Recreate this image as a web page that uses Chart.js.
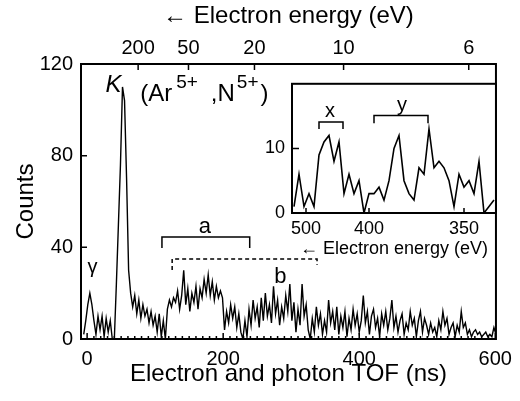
<!DOCTYPE html>
<html>
<head>
<meta charset="utf-8">
<script src="https://cdn.jsdelivr.net/npm/chart.js@4.4.1/dist/chart.umd.min.js"></script>
<style>
  html, body { margin: 0; padding: 0; background: #fff; }
  #wrap { position: relative; width: 520px; height: 401px; }
  #main { position: absolute; left: 0; top: 0; }
  #inset { position: absolute; left: 255px; top: 66px; }
</style>
</head>
<body>
<div id="wrap">
  <canvas id="main" width="520" height="401"></canvas>
  <canvas id="inset" width="245" height="196"></canvas>
</div>
<script>
/* TOF spectrum with an energy inset */
var FONT = "'Liberation Sans', Arial, Helvetica, sans-serif";

var tofStart = -5;   // ns, first bin
var tofBin = 3;      // ns per bin
var counts = [
  2, 8, 15, 20, 15, 8, 2, 10, 4, 10, 1, 9, 3, 8, 0, 0, 24, 50, 76, 110,
  104, 70, 30, 20, 14, 19, 11, 17, 9, 15, 10, 13, 7, 12, 6, 10, 3, 11, 1, 8,
  0, 13, 17, 14, 18, 16, 21, 13, 19, 30, 15, 22, 12, 20, 16, 23, 13, 22, 18, 26,
  20, 28, 19, 25, 17, 23, 18, 21, 18, 4, 12, 7, 15, 9, 14, 5, 11, 3, 0, 8,
  1, 13, 6, 17, 9, 14, 5, 18, 8, 20, 10, 15, 7, 23, 11, 17, 6, 14, 9, 19,
  12, 24, 8, 16, 3, 13, 6, 24, 10, 15, 4, 0, 9, 3, 14, 6, 11, 2, 8, 3,
  17, 7, 12, 4, 14, 2, 10, 5, 12, 1, 9, 4, 13, 6, 11, 3, 8, 19, 7, 12,
  2, 10, 13, 5, 9, 1, 11, 6, 12, 4, 9, 17, 5, 10, 3, 8, 11, 2, 7, 4,
  12, 6, 9, 1, 8, 12, 3, 9, 6, 2, 7, 3, 5, 1, 8, 4, 12, 6, 9, 2,
  5, 7, 1, 6, 3, 12, 5, 7, 2, 4, 1, 3, 4, 2, 3, 1, 2, 3, 1, 2,
  1, 5, 2
];
var tofTicks = [0, 200, 400, 600];
var countTicks = [0, 40, 80, 120];
var energyLabels = ['200', '50', '20', '10', '6'];
var energyTof = [75, 149, 246, 377, 561];   // TOF (ns) where each energy label sits

var insetCounts = [
  1, 6, 1, 3, 1, 9, 11, 12, 8, 11, 3, 6, 3, 5, 0, 3, 3, 4, 2, 5,
  10, 12, 5, 3, 2, 7, 6, 13, 7, 8, 7, 5, 1, 6, 4, 5, 3, 8, 0, 1, 2
];
var insetCountTicks = [0, 10];
var insetEnergyLabels = ['500', '400', '350'];
var insetEnergyPos = [2.4, 15, 34];         // channel where each energy label sits

function fixedTicks(list) {
  return function (scale) { scale.ticks = list.map(function (v) { return { value: v }; }); };
}

function tickFont(size) { return { family: FONT, size: size }; }

/* frame + inward tick marks */
var mainFrame = {
  id: 'mainFrame',
  afterDatasetsDraw: function (chart) {
    var ctx = chart.ctx, a = chart.chartArea, s = chart.scales;
    ctx.save();
    ctx.strokeStyle = '#000';
    ctx.lineWidth = 2;
    ctx.strokeRect(a.left, a.top, a.right - a.left, a.bottom - a.top);
    ctx.lineWidth = 1.5;
    ctx.beginPath();
    countTicks.forEach(function (v) {
      var y = s.y.getPixelForValue(v);
      ctx.moveTo(a.left, y); ctx.lineTo(a.left + 6, y);
    });
    tofTicks.forEach(function (v) {
      var x = s.x.getPixelForValue(v);
      ctx.moveTo(x, a.bottom); ctx.lineTo(x, a.bottom - 6);
    });
    for (var t = 10; t < 600; t += 10) {
      var xm = s.x.getPixelForValue(t);
      ctx.moveTo(xm, a.bottom); ctx.lineTo(xm, a.bottom - 3);
    }
    energyTof.forEach(function (v) {
      var x = s.x2.getPixelForValue(v);
      ctx.moveTo(x, a.top); ctx.lineTo(x, a.top + 6);
    });
    ctx.stroke();
    ctx.restore();
  }
};

var mainNotes = {
  id: 'mainNotes',
  afterDraw: function (chart) {
    var ctx = chart.ctx, sx = chart.scales.x, sy = chart.scales.y;
    var px = function (v) { return sx.getPixelForValue(v); };
    var py = function (v) { return sy.getPixelForValue(v); };
    ctx.save();
    ctx.fillStyle = '#000';
    ctx.strokeStyle = '#000';
    ctx.textBaseline = 'alphabetic';

    ctx.textAlign = 'left';
    ctx.font = 'italic 24px ' + FONT;
    ctx.fillText('K', px(27), py(108));

    var cx = px(78), base = py(103.7);
    var part = function (t, size, rise) {
      ctx.font = size + 'px ' + FONT;
      ctx.fillText(t, cx, base - rise);
      cx += ctx.measureText(t).width;
    };
    part('(Ar', 24, 0); cx += 4;
    part('5+', 19, 13); cx += 13;
    part(',N', 24, 0); cx += 2;
    part('5+', 19, 13); cx += 2;
    part(')', 24, 0);

    ctx.textAlign = 'center';
    ctx.font = '20px ' + FONT;
    ctx.fillText('\u03b3', px(7.8), py(28.6));
    ctx.font = '22px ' + FONT;
    ctx.fillText('a', px(173), py(46.3));
    ctx.fillText('b', px(284), py(24.5));

    ctx.lineWidth = 1.5;
    ctx.beginPath();
    ctx.moveTo(px(110), py(39.7)); ctx.lineTo(px(110), py(44.5));
    ctx.lineTo(px(239), py(44.5)); ctx.lineTo(px(239), py(39.7));
    ctx.stroke();

    ctx.setLineDash([4, 3]);
    ctx.beginPath();
    ctx.moveTo(px(125), py(30.1)); ctx.lineTo(px(125), py(34.9));
    ctx.lineTo(px(338), py(34.9)); ctx.lineTo(px(338), py(32.3));
    ctx.stroke();
    ctx.restore();
  }
};

var mainPoints = counts.map(function (c, i) { return { x: tofStart + i * tofBin, y: c }; });

new Chart(document.getElementById('main'), {
  type: 'line',
  data: {
    datasets: [{
      data: mainPoints, borderColor: '#000', borderWidth: 1.4,
      pointRadius: 0, tension: 0, fill: false, xAxisID: 'x', yAxisID: 'y'
    }]
  },
  options: {
    responsive: false, animation: false, events: [],
    layout: { padding: { right: 22 } },
    plugins: { legend: { display: false }, tooltip: { enabled: false } },
    scales: {
      x: {
        type: 'linear', position: 'bottom', min: -9, max: 601,
        afterBuildTicks: fixedTicks(tofTicks),
        afterFit: function (s) { s.height = 62; },
        grid: { display: false, drawTicks: false }, border: { display: false },
        ticks: { font: tickFont(20), color: '#000', padding: 8, maxRotation: 0, autoSkip: false },
        title: { display: true, text: 'Electron and photon TOF (ns)', color: '#000',
                 font: tickFont(24), padding: { top: 0, bottom: 12 } }
      },
      x2: {
        type: 'linear', position: 'top', min: -9, max: 601,
        afterBuildTicks: fixedTicks(energyTof),
        afterFit: function (s) { s.height = 64; },
        grid: { display: false, drawTicks: false }, border: { display: false },
        ticks: {
          font: tickFont(20), color: '#000', padding: 4, maxRotation: 0, autoSkip: false,
          callback: function (v) { return energyLabels[energyTof.indexOf(v)]; }
        },
        title: { display: true, text: '\u2190 Electron energy (eV)', color: '#000',
                 font: tickFont(24), padding: { top: 2, bottom: 0 } }
      },
      y: {
        type: 'linear', min: 0, max: 120,
        afterBuildTicks: fixedTicks(countTicks),
        afterFit: function (s) { s.width = 81; },
        grid: { display: false, drawTicks: false }, border: { display: false },
        ticks: { font: tickFont(20), color: '#000', padding: 8 },
        title: { display: true, text: 'Counts', color: '#000',
                 font: tickFont(24), padding: { top: 11.6, bottom: 0 } }
      }
    }
  },
  plugins: [mainFrame, mainNotes]
});

/* ── inset ─────────────────────────────── */
var insetFrame = {
  id: 'insetFrame',
  afterDatasetsDraw: function (chart) {
    var ctx = chart.ctx, a = chart.chartArea, s = chart.scales;
    ctx.save();
    ctx.strokeStyle = '#000';
    ctx.lineWidth = 2;
    ctx.strokeRect(a.left, a.top, a.right - a.left, a.bottom - a.top);
    ctx.lineWidth = 1.5;
    ctx.beginPath();
    insetCountTicks.forEach(function (v) {
      var y = s.y.getPixelForValue(v);
      ctx.moveTo(a.left, y); ctx.lineTo(a.left + 7, y);
    });
    insetEnergyPos.forEach(function (v) {
      var x = s.x.getPixelForValue(v);
      ctx.moveTo(x, a.bottom); ctx.lineTo(x, a.bottom - 5);
    });
    ctx.stroke();

    var px = function (v) { return s.x.getPixelForValue(v); };
    var py = function (v) { return s.y.getPixelForValue(v); };
    ctx.beginPath();
    ctx.moveTo(px(5), py(13)); ctx.lineTo(px(5), py(14.1));
    ctx.lineTo(px(9.8), py(14.1)); ctx.lineTo(px(9.8), py(13));
    ctx.moveTo(px(16), py(13.9)); ctx.lineTo(px(16), py(15.1));
    ctx.lineTo(px(26.8), py(15.1)); ctx.lineTo(px(26.8), py(13.9));
    ctx.stroke();

    ctx.fillStyle = '#000';
    ctx.textAlign = 'center';
    ctx.textBaseline = 'alphabetic';
    ctx.font = '20px ' + FONT;
    ctx.fillText('x', px(7.2), py(14.8));
    ctx.fillText('y', px(21.6), py(15.8));
    ctx.restore();
  }
};

var insetPoints = insetCounts.map(function (c, i) { return { x: i, y: c }; });

new Chart(document.getElementById('inset'), {
  type: 'line',
  data: {
    datasets: [{
      data: insetPoints, borderColor: '#000', borderWidth: 1.6,
      pointRadius: 0, tension: 0, fill: false
    }]
  },
  options: {
    responsive: false, animation: false, events: [],
    layout: { padding: { right: 4, top: 2 } },
    plugins: { legend: { display: false }, tooltip: { enabled: false } },
    scales: {
      x: {
        type: 'linear', min: -0.4, max: 40.4,
        afterBuildTicks: fixedTicks(insetEnergyPos),
        afterFit: function (s) { s.height = 49; },
        grid: { display: false, drawTicks: false }, border: { display: false },
        ticks: {
          font: tickFont(18), color: '#000', padding: 5, maxRotation: 0, autoSkip: false,
          callback: function (v) { return insetEnergyLabels[insetEnergyPos.indexOf(v)]; }
        },
        title: { display: true, text: '\u2190 Electron energy (eV)', color: '#000',
                 font: tickFont(18), padding: { top: 0, bottom: 2 } }
      },
      y: {
        type: 'linear', min: 0, max: 20,
        afterBuildTicks: fixedTicks(insetCountTicks),
        afterFit: function (s) { s.width = 37; },
        grid: { display: false, drawTicks: false }, border: { display: false },
        ticks: { font: tickFont(18), color: '#000', padding: 7 }
      }
    }
  },
  plugins: [insetFrame]
});
</script>
</body>
</html>
